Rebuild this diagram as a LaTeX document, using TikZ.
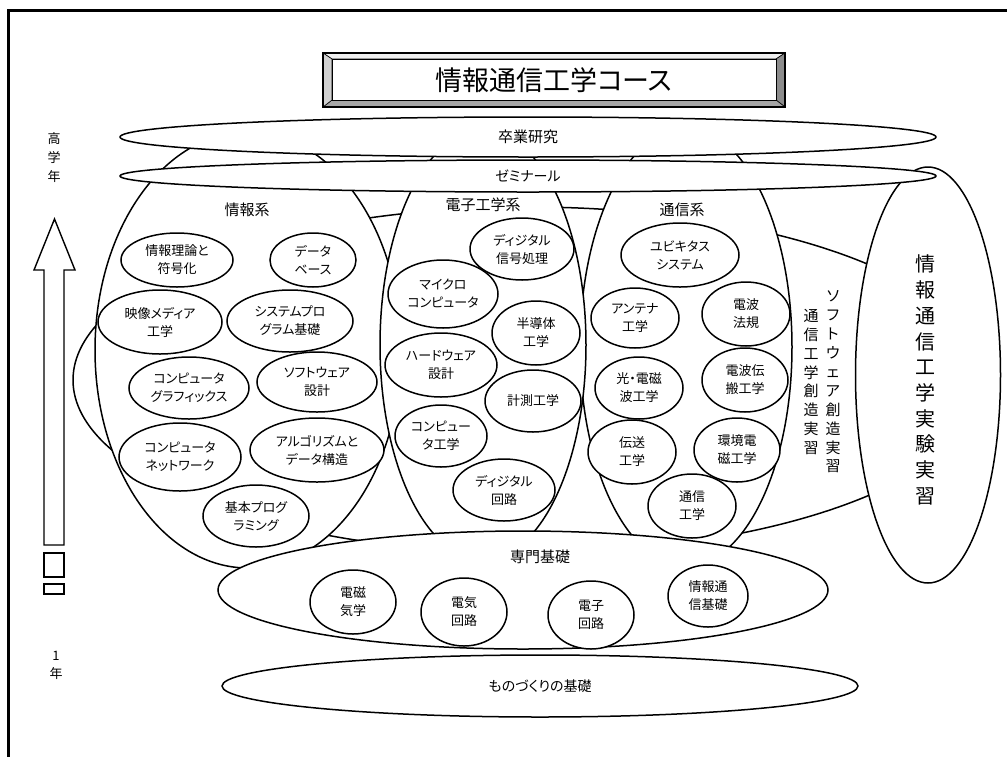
\documentclass[tikz,border=0pt]{standalone}
\usepackage{fontspec}
\setmainfont{Noto Sans CJK JP}[RawFeature=+palt]
\usetikzlibrary{shapes.geometric}
\begin{document}
\begin{tikzpicture}[x=1pt,y=-1pt,
  ell/.style={ellipse, draw, fill=white, line width=1.5pt, inner xsep=-12pt, inner ysep=-6pt, align=center, font=\fontsize{13}{18}\selectfont},
  ov/.style 2 args={ell, minimum width=#1, minimum height=#2},
  lbl/.style={font=\fontsize{15}{18}\selectfont, inner sep=0pt},
  vtxt/.style={align=center, inner sep=0pt, font=\fontsize{15}{18.9}\selectfont},
  side/.style={align=center, inner sep=0pt, font=\fontsize{13}{19}\selectfont},
  bev/.style={draw=black, line width=0.6pt}
]
\useasboundingbox (0,0) rectangle (1007,756);
% frame
\draw[line width=2.6pt] (8.7,760) -- (8.7,10.3) -- (1010,10.3);

% background practice ellipse
\node[ov={912}{346}] (bg) at (529,380) {};
% experiment ellipse
\node[ov={145}{416}] (jikken) at (928,375) {};
\node[align=center, inner sep=0pt, font=\fontsize{20}{25.7}\selectfont] (jikkenT) at (925,380) {情\\報\\通\\信\\工\\学\\実\\験\\実\\習};
\node[vtxt] (sw) at (833,382) {ソ\\フ\\ト\\ウ\\ェ\\ア\\創\\造\\実\\習};
\node[vtxt] (tsu) at (811,382) {通\\信\\工\\学\\創\\造\\実\\習};

% columns
\node[ov={306}{436}] (joho) at (248,350) {};
\node[ov={212}{438}] (tsushin) at (686,347) {};
\node[ov={206}{430}] (denshi) at (483,345) {};
\node[lbl] (johoL) at (247,210) {情報系};
\node[lbl] (denshiL) at (483,205) {電子工学系};
\node[lbl] (tsushinL) at (682,210) {通信系};

% info ovals
\node[ov={112}{54}] (i1) at (177,260) {情報理論と\\符号化};
\node[ov={86}{54}] (i2) at (313,260) {データ\\ベース};
\node[ov={124}{64}] (i3) at (160,322) {映像メディア\\工学};
\node[ov={126}{62}] (i4) at (290,321) {システムプロ\\グラム基礎};
\node[ov={120}{62}] (i5) at (189,388) {コンピュータ\\グラフィックス};
\node[ov={120}{60}] (i6) at (317,382) {ソフトウェア\\設計};
\node[ov={122}{68}] (i7) at (180,457) {コンピュータ\\ネットワーク};
\node[ov={134}{64}] (i8) at (317,450) {アルゴリズムと\\データ構造};
\node[ov={106}{62}] (i9) at (256,516) {基本プログ\\ラミング};

% electronics ovals
\node[ov={104}{62}] (e1) at (522,249) {ディジタル\\信号処理};
\node[ov={110}{68}] (e2) at (443,294) {マイクロ\\コンピュータ};
\node[ov={88}{64}] (e3) at (536,333) {半導体\\工学};
\node[ov={112}{64}] (e4) at (441,365) {ハードウェア\\設計};
\node[ov={96}{62}] (e5) at (533,401) {計測工学};
\node[ov={92}{62}] (e6) at (441,436) {コンピュー\\タ工学};
\node[ov={102}{62}] (e7) at (504,490) {ディジタル\\回路};

% communication ovals
\node[ov={118}{64}] (c1) at (680,255) {ユビキタス\\システム};
\node[ov={88}{60}] (c2) at (635,318) {アンテナ\\工学};
\node[ov={88}{64}] (c3) at (746,314) {電波\\法規};
\node[ov={88}{62}] (c4) at (639,388) {光・電磁\\波工学};
\node[ov={86}{64}] (c5) at (745,380) {電波伝\\搬工学};
\node[ov={88}{64}] (c6) at (632,452) {伝送\\工学};
\node[ov={86}{64}] (c7) at (737,450) {環境電\\磁工学};
\node[ov={88}{64}] (c8) at (692,506) {通信\\工学};

% top ellipses
\node[ov={816}{40}, font=\fontsize{15}{18}\selectfont] (sotsu) at (528,137) {卒業研究};
\node[ov={816}{32}, font=\fontsize{14}{18}\selectfont] (semi) at (528,176) {ゼミナール};

% senmon kiso
\node[ov={610}{118}] (senmon) at (523,590) {};
\node[lbl] (senmonL) at (540,557) {専門基礎};
\node[ov={86}{64}] (b1) at (353,602) {電磁\\気学};
\node[ov={86}{68}] (b2) at (464,612) {電気\\回路};
\node[ov={86}{68}] (b3) at (591,615) {電子\\回路};
\node[ov={80}{62}] (b4) at (708,596) {情報通\\信基礎};

% monozukuri
\node[ov={636}{62}, font=\fontsize{14}{18}\selectfont] (mono) at (540,686) {ものづくりの基礎};

% title bevel box
\coordinate (o1) at (323,53); \coordinate (o2) at (785,53);
\coordinate (o3) at (785,107); \coordinate (o4) at (323,107);
\coordinate (n1) at (332,59); \coordinate (n2) at (776,59);
\coordinate (n3) at (776,100); \coordinate (n4) at (332,100);
\filldraw[bev, fill=black!6] (o1) -- (o2) -- (n2) -- (n1) -- cycle;
\filldraw[bev, fill=black!45] (o2) -- (o3) -- (n3) -- (n2) -- cycle;
\filldraw[bev, fill=black!35] (o3) -- (o4) -- (n4) -- (n3) -- cycle;
\filldraw[bev, fill=black!18] (o4) -- (o1) -- (n1) -- (n4) -- cycle;
\draw[line width=1.4pt] (o1) rectangle (o3);
\draw[line width=1pt, fill=white] (n1) rectangle (n3);
\node[inner sep=0pt, font=\fontsize{27}{30}\selectfont] (title) at (554,80) {情報通信工学コース};

% left side
\node[side] (high) at (54,158) {高\\学\\年};
\draw[line width=1.4pt, fill=white] (44,545) -- (44,270) -- (34,270) -- (54.5,219) -- (75,270) -- (64,270) -- (64,545) -- cycle;
\draw[line width=1.4pt] (44,553) rectangle (64,577);
\draw[line width=1.4pt] (44,584) rectangle (64,594);
\node[side, font=\fontsize{13}{18}\selectfont] (first) at (56,665) {1\\年};
\end{tikzpicture}
\end{document}
